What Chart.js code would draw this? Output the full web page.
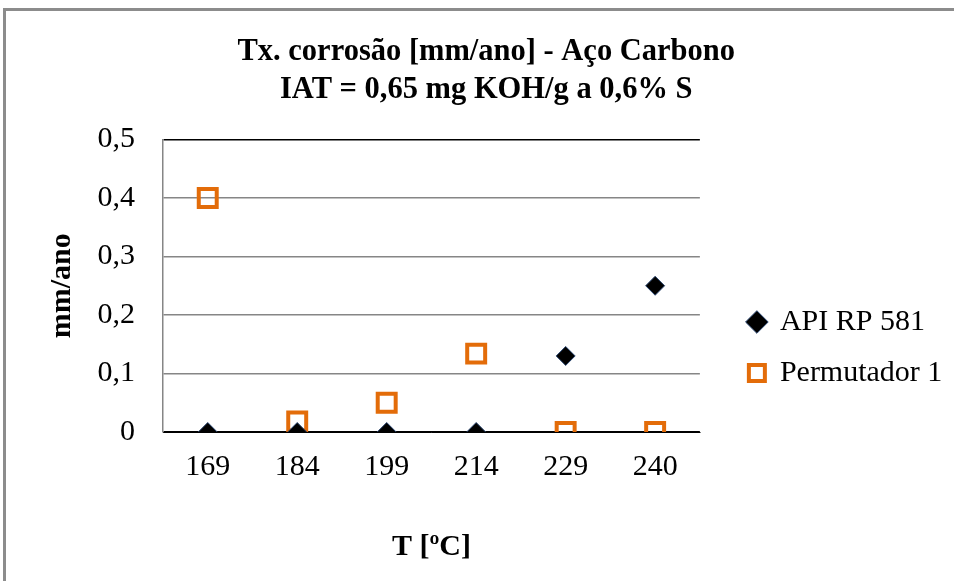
<!DOCTYPE html>
<html>
<head>
<meta charset="utf-8">
<script src="https://cdn.jsdelivr.net/npm/chart.js@4/dist/chart.umd.min.js"></script>
<style>
  html, body { margin: 0; padding: 0; background: #fff; overflow: hidden; }
  #frame { position: absolute; left: 3px; top: 8px; width: 1100px; height: 800px; border: 3px solid #8c8c8c; }
  #box { position: absolute; left: 0; top: 0; width: 954px; height: 581px; }
</style>
</head>
<body>
<div id="frame"></div>
<div id="box"><canvas id="Chart"></canvas></div>
<script>
// dados
const temperaturas = ['169', '184', '199', '214', '229', '240'];
const apiRp581 = [0, 0, 0, 0, 0.13, 0.25];
const permutador1 = [0.4, 0.018, 0.05, 0.134, 0, 0];
const yTicks = [0, 0.1, 0.2, 0.3, 0.4, 0.5];

const serif = 'Liberation Serif';
const cinza = '#868686';

// afasta a legenda da área do gráfico
const moverLegenda = {
	id: 'moverLegenda',
	afterLayout(chart) {
		chart.legend.left += 28;
		chart.legend.right += 28;
	},
};

let ctx = document.getElementById('Chart');
let config = {
	type: 'line',
	data: {
		labels: temperaturas,
		datasets: [{
			label: 'API RP 581',
			data: apiRp581,
			showLine: false,
			pointStyle: 'rectRot',
			pointRadius: 9.5,
			pointHoverRadius: 9.5,
			pointBackgroundColor: '#000000',
			pointBorderColor: '#2a4670',
			pointBorderWidth: 1,
		}, {
			label: 'Permutador 1',
			data: permutador1,
			showLine: false,
			pointStyle: 'rect',
			pointRadius: 12.7,
			pointHoverRadius: 12.7,
			pointBackgroundColor: 'rgba(255,255,255,0)',
			pointBorderColor: '#E36C09',
			pointBorderWidth: 4,
		}],
	},
	options: {
		responsive: true,
		maintainAspectRatio: false,
		animation: false,
		events: [],
		layout: { padding: { left: 59, right: 40.5, top: 0, bottom: 0 } },
		plugins: {
			title: {
				display: true,
				text: ['Tx. corrosão [mm/ano] - Aço Carbono', 'IAT = 0,65 mg KOH/g a 0,6% S'],
				color: '#000',
				font: { family: serif, size: 30.5, weight: 'bold', lineHeight: 1.246 },
				padding: { top: 33, bottom: 30.5 },
			},
			legend: {
				position: 'right',
				title: { display: true, text: '', font: { size: 10, lineHeight: 1 }, padding: { top: 104, bottom: 0 } },
				labels: {
					usePointStyle: true,
					boxHeight: 16,
					boxWidth: 16,
					padding: 21,
					color: '#000',
					font: { family: serif, size: 30 },
				},
			},
			tooltip: { enabled: false },
		},
		scales: {
			x: {
				offset: true,
				grid: {
					offset: true,
					drawTicks: false,
					lineWidth: 1.5,
					color: (c) => c.index === temperaturas.length ? '#000' : 'rgba(0,0,0,0)',
				},
				border: { color: '#000', width: 1 },
				ticks: { color: '#000', font: { family: serif, size: 30 }, padding: 17 },
				title: {
					display: true,
					text: 'T [ºC]',
					color: '#000',
					font: { family: serif, size: 30, weight: 'bold', lineHeight: 1.2 },
					padding: { top: 0, bottom: 16 },
				},
				afterFit: (s) => { s.height = 149; },
			},
			y: {
				min: 0,
				max: 0.5,
				afterBuildTicks: (s) => { s.ticks = yTicks.map(v => ({ value: v })); },
				grid: {
					drawTicks: false,
					lineWidth: 1.5,
					color: (c) => (c.tick && (c.tick.value === 0.5 || c.tick.value === 0)) ? '#000' : cinza,
				},
				border: { color: cinza, width: 1.5 },
				ticks: {
					color: '#000',
					font: { family: serif, size: 30 },
					padding: 28,
					callback: (v) => v === 0 ? '0' : v.toFixed(1).replace('.', ','),
				},
				title: {
					display: true,
					text: 'mm/ano',
					color: '#000',
					font: { family: serif, size: 30, weight: 'bold', lineHeight: 0.2 },
					padding: { top: 0, bottom: 0 },
				},
				afterFit: (s) => { s.width = 104; },
			},
		},
	},
	plugins: [moverLegenda],
};
let chart = new Chart(ctx, config);
</script>
</body>
</html>
